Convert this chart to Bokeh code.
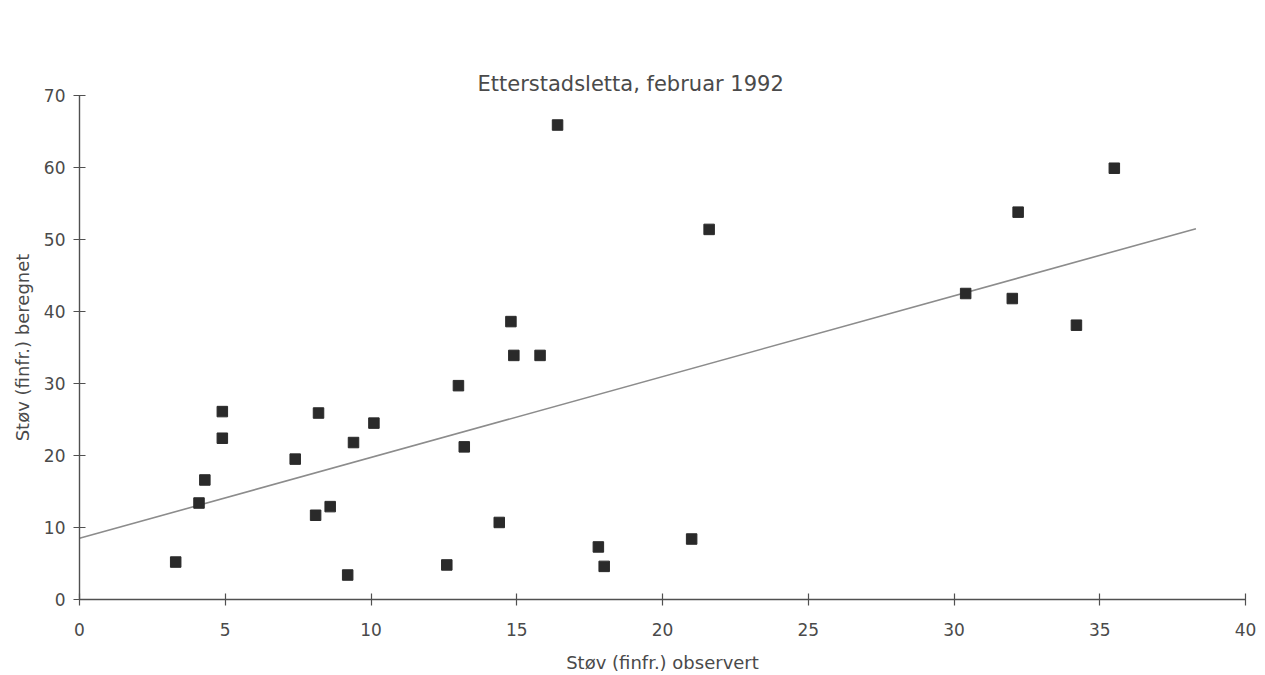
from bokeh.plotting import figure
from bokeh.models import Range1d, SingleIntervalTicker, Title
from bokeh.embed import file_html
from bokeh.resources import INLINE

# Observed vs calculated fine dust (Etterstadsletta, Feb 1992)
observed = [3.3, 4.1, 4.3, 4.9, 4.9, 7.4, 8.1, 8.2, 8.6, 9.2, 9.4, 10.1,
            12.6, 13.0, 13.2, 14.4, 14.8, 14.9, 15.8, 16.4, 17.8, 18.0,
            21.0, 21.6, 30.4, 32.0, 32.2, 34.2, 35.5]
calculated = [5.2, 13.4, 16.6, 26.1, 22.4, 19.5, 11.7, 25.9, 12.9, 3.4, 21.8, 24.5,
              4.8, 29.7, 21.2, 10.7, 38.6, 33.9, 33.9, 65.9, 7.3, 4.6,
              8.4, 51.4, 42.5, 41.8, 53.8, 38.1, 59.9]
# regression line end points
fit_x = [0.0, 38.3]
fit_y = [8.5, 51.5]

TITLE = "Etterstadsletta, februar 1992"
X_LABEL = "Støv (finfr.) observert"
Y_LABEL = "Støv (finfr.) beregnet"

FONT = "DejaVu Sans"
TXT = "#4a4a4a"
AX = "#505050"

p = figure(width=1265, height=675, output_backend="svg", toolbar_location=None,
           x_range=Range1d(0, 40), y_range=Range1d(0, 70),
           min_border_left=79, min_border_right=20,
           min_border_top=95, min_border_bottom=76)

# real title (outer panel)
p.add_layout(Title(text=TITLE, align="left", offset=398, standoff=0,
                   text_font=FONT, text_font_size="21px", text_font_style="normal",
                   text_color=TXT), "above")
# invisible spacer panel (added last, so nearest the frame) pushing the title up
p.add_layout(Title(text="\u00a0", standoff=31, text_font=FONT,
                   text_font_size="21px", text_alpha=0), "above")

p.outline_line_color = None
p.xgrid.grid_line_color = None
p.ygrid.grid_line_color = None
p.background_fill_color = "white"
p.border_fill_color = "white"

p.xaxis.ticker = SingleIntervalTicker(interval=5)
p.yaxis.ticker = SingleIntervalTicker(interval=10)
p.xaxis.minor_tick_line_color = None
p.yaxis.minor_tick_line_color = None

for ax in (p.xaxis, p.yaxis):
    ax.axis_line_color = AX
    ax.axis_line_width = 1.4
    ax.major_tick_line_color = AX
    ax.major_tick_line_width = 1.2
    ax.major_tick_in = 6
    ax.major_tick_out = 6
    ax.major_label_text_font = FONT
    ax.major_label_text_font_size = "17px"
    ax.major_label_text_color = TXT
    ax.axis_label_text_font = FONT
    ax.axis_label_text_font_size = "18px"
    ax.axis_label_text_font_style = "normal"
    ax.axis_label_text_color = TXT

p.xaxis.axis_label = X_LABEL
p.yaxis.axis_label = Y_LABEL
p.xaxis.major_label_standoff = 17
p.xaxis.axis_label_standoff = 13
p.yaxis.major_label_standoff = 8
p.yaxis.axis_label_standoff = 8

p.line(fit_x, fit_y, line_color="#8c8c8c", line_width=1.6)
p.scatter(observed, calculated, marker="square", size=10.5,
          fill_color="#2a2a2a", line_color="#2a2a2a")

open("out.html", "w").write(file_html(p, INLINE))
